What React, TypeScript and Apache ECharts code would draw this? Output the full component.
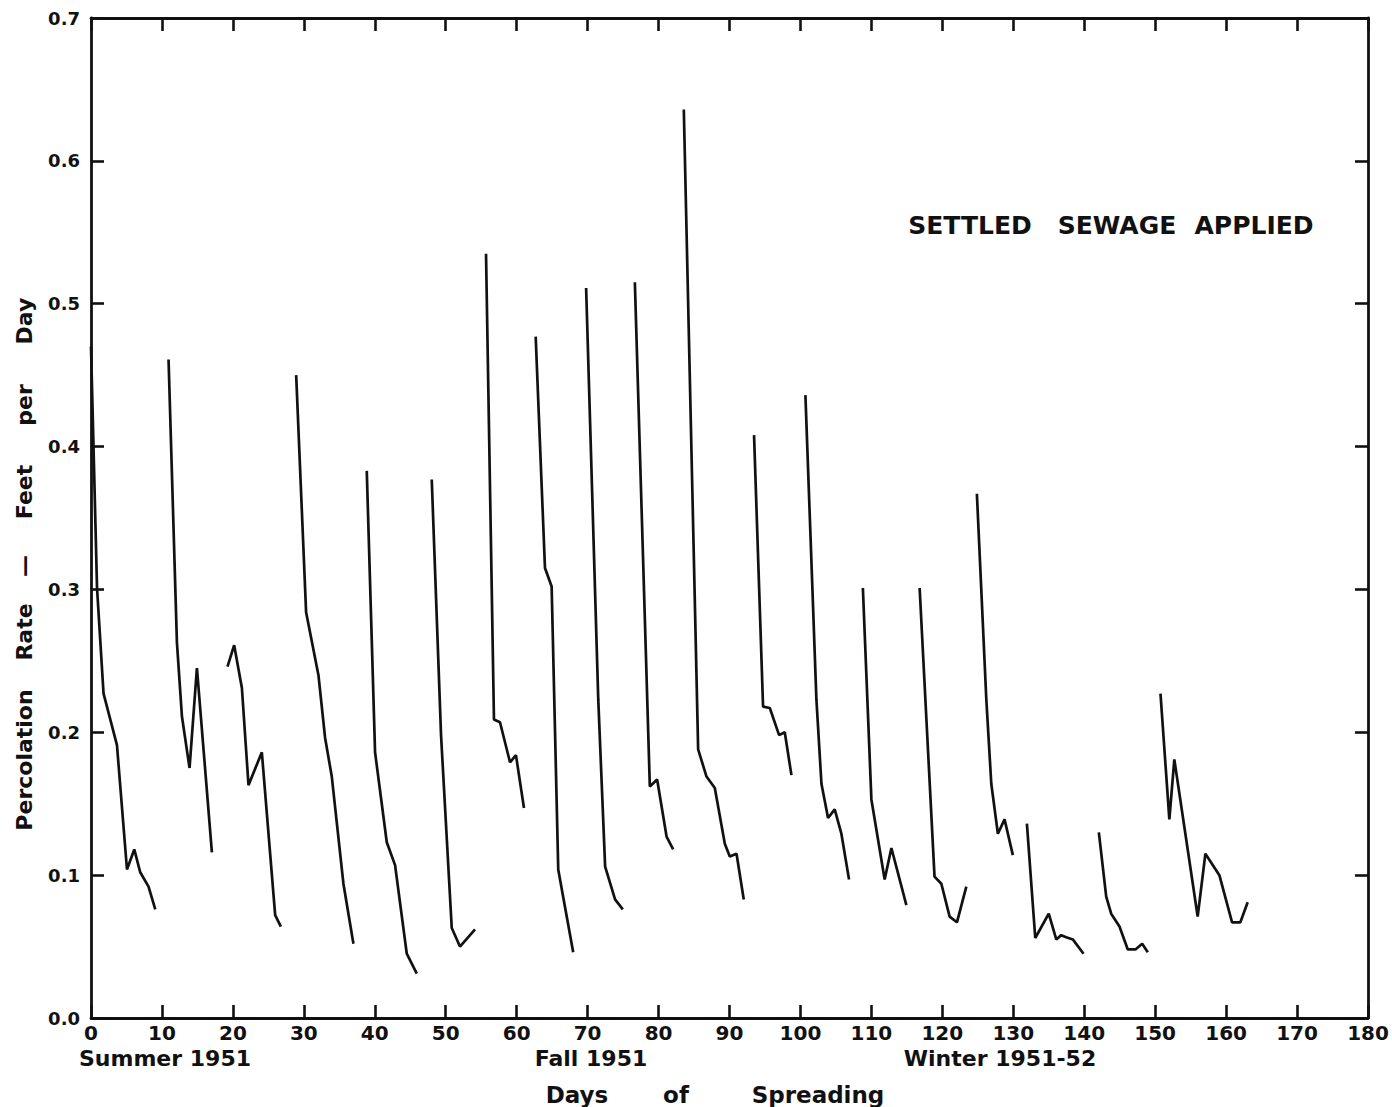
import React, { useEffect, useRef } from "react";
import * as echarts from "echarts";

// Percolation rate (feet per day) vs days of spreading, one array per spreading run
const run01 = [[0, 0.47], [0.85, 0.301], [1.77, 0.227], [3.66, 0.191], [5.07, 0.104], [6.1, 0.118], [6.94, 0.102], [8.11, 0.092], [9.06, 0.076]];
const run02 = [[10.93, 0.461], [12.11, 0.263], [12.82, 0.211], [13.89, 0.175], [14.93, 0.245], [17.04, 0.116]];
const run03 = [[19.24, 0.246], [20.18, 0.261], [21.27, 0.231], [22.2, 0.163], [24.08, 0.186], [25.96, 0.072], [26.76, 0.064]];
const run04 = [[28.92, 0.45], [30.32, 0.284], [32.06, 0.24], [33.0, 0.196], [33.94, 0.169], [35.58, 0.094], [36.99, 0.052]];
const run05 = [[38.87, 0.383], [40.04, 0.186], [41.69, 0.123], [42.86, 0.107], [44.51, 0.045], [45.92, 0.031]];
const run06 = [[48.03, 0.377], [49.34, 0.198], [50.85, 0.063], [52.01, 0.05], [54.13, 0.062]];
const run07 = [[55.68, 0.535], [56.8, 0.209], [57.65, 0.207], [59.06, 0.179], [59.9, 0.184], [61.03, 0.147]];
const run08 = [[62.68, 0.477], [63.99, 0.315], [64.93, 0.302], [65.86, 0.104], [66.8, 0.078], [67.97, 0.046]];
const run09 = [[69.79, 0.511], [71.5, 0.223], [72.47, 0.106], [73.87, 0.083], [74.96, 0.076]];
const run10 = [[76.66, 0.515], [78.77, 0.162], [79.8, 0.167], [81.13, 0.127], [82.06, 0.118]];
const run11 = [[83.56, 0.636], [85.58, 0.188], [86.76, 0.169], [87.93, 0.161], [89.34, 0.122], [90.04, 0.113], [90.99, 0.115], [92.01, 0.083]];
const run12 = [[93.46, 0.408], [94.73, 0.218], [95.68, 0.217], [96.99, 0.198], [97.79, 0.2], [98.73, 0.17]];
const run13 = [[100.7, 0.436], [102.25, 0.223], [102.96, 0.164], [103.89, 0.14], [104.83, 0.146], [105.77, 0.129], [106.85, 0.097]];
const run14 = [[108.8, 0.301], [110.0, 0.153], [111.87, 0.097], [112.82, 0.119], [114.93, 0.079]];
const run15 = [[116.8, 0.301], [118.9, 0.099], [119.86, 0.094], [121.03, 0.071], [122.06, 0.067], [123.38, 0.092]];
const run16 = [[124.87, 0.367], [126.2, 0.223], [126.9, 0.164], [127.83, 0.129], [128.77, 0.139], [129.94, 0.114]];
const run17 = [[131.92, 0.136], [133.1, 0.056], [135.0, 0.073], [136.06, 0.055], [136.76, 0.058], [137.46, 0.0565], [138.39, 0.055], [139.9, 0.045]];
const run18 = [[142.06, 0.13], [143.1, 0.085], [143.8, 0.073], [144.97, 0.064], [146.14, 0.048], [147.22, 0.048], [148.17, 0.052], [148.96, 0.046]];
const run19 = [[150.75, 0.227], [152.0, 0.139], [152.7, 0.181], [155.99, 0.071], [157.08, 0.115], [159.05, 0.1], [160.84, 0.067], [162.01, 0.067], [163.04, 0.081]];

const runs = [run01, run02, run03, run04, run05, run06, run07, run08, run09, run10,
  run11, run12, run13, run14, run15, run16, run17, run18, run19];

const xMin = 0, xMax = 180, xStep = 10;
const yMin = 0, yMax = 0.7, yStep = 0.1;

const seasonLabels = ["Summer 1951", "Fall 1951", "Winter 1951-52"];
const xTitleWords = ["Days", "of", "Spreading"];
const yTitleWords = ["Percolation", "Rate", "—", "Feet", "per", "Day"];
const noteWords = ["SETTLED", "SEWAGE", "APPLIED"];

const FONT = '"DejaVu Sans", sans-serif';
const INK = "#111";

export default function App() {
  const ref = useRef<HTMLDivElement>(null);
  useEffect(() => {
    document.body.style.margin = "0";
    const chart = echarts.init(ref.current!, null, { renderer: "svg" });
    const axisLine = { show: true, onZero: false, lineStyle: { color: INK, width: 2.8 } };
    const tick = { show: true, inside: true, length: 13, lineStyle: { color: INK, width: 2.6 } };
    const txt = (text: string, x: number, y: number, size: number, align = "center", rot = 0) => ({
      type: "text",
      x, y, rotation: rot,
      silent: true,
      style: { text, font: `bold ${size}px ${FONT}`, fill: INK, align, verticalAlign: "middle" },
    });
    const seasonX = [165, 591, 1000];
    const xTitleX = [577, 676, 818];
    const yTitleY = [760, 632, 566, 492, 405, 321];
    const noteX = [970, 1117, 1254];
    const graphics: any[] = [];
    seasonLabels.forEach((t, i) => graphics.push(txt(t, seasonX[i], 1058, 22)));
    xTitleWords.forEach((t, i) => graphics.push(txt(t, xTitleX[i], 1095, 23)));
    yTitleWords.forEach((t, i) => graphics.push(txt(t, 24, yTitleY[i], 22, "center", Math.PI / 2)));
    noteWords.forEach((t, i) => graphics.push(txt(t, noteX[i], 225, 25)));

    chart.setOption({
      animation: false,
      backgroundColor: "#fff",
      grid: { left: 91, top: 18, width: 1277, height: 1000 },
      xAxis: [
        {
          type: "value", min: xMin, max: xMax, interval: xStep, position: "bottom",
          axisLine, axisTick: tick, splitLine: { show: false },
          axisLabel: { color: INK, fontFamily: FONT, fontWeight: "bold", fontSize: 20, margin: 5 },
        },
        {
          type: "value", min: xMin, max: xMax, interval: xStep, position: "top",
          axisLine, axisTick: tick, splitLine: { show: false }, axisLabel: { show: false },
        },
      ],
      yAxis: [
        {
          type: "value", min: yMin, max: yMax, interval: yStep, position: "left",
          axisLine, axisTick: tick, splitLine: { show: false },
          axisLabel: {
            color: INK, fontFamily: FONT, fontWeight: "bold", fontSize: 18, margin: 11,
            formatter: (v: number) => v.toFixed(1),
          },
        },
        {
          type: "value", min: yMin, max: yMax, interval: yStep, position: "right",
          axisLine, axisTick: tick, splitLine: { show: false }, axisLabel: { show: false },
        },
      ],
      series: runs.map((r) => ({
        type: "line",
        data: r,
        xAxisIndex: 0,
        yAxisIndex: 0,
        showSymbol: false,
        silent: true,
        lineStyle: { color: INK, width: 2.7 },
      })),
      graphic: graphics,
    });
    return () => chart.dispose();
  }, []);
  return <div ref={ref} style={{ width: 1392, height: 1107 }} />;
}
